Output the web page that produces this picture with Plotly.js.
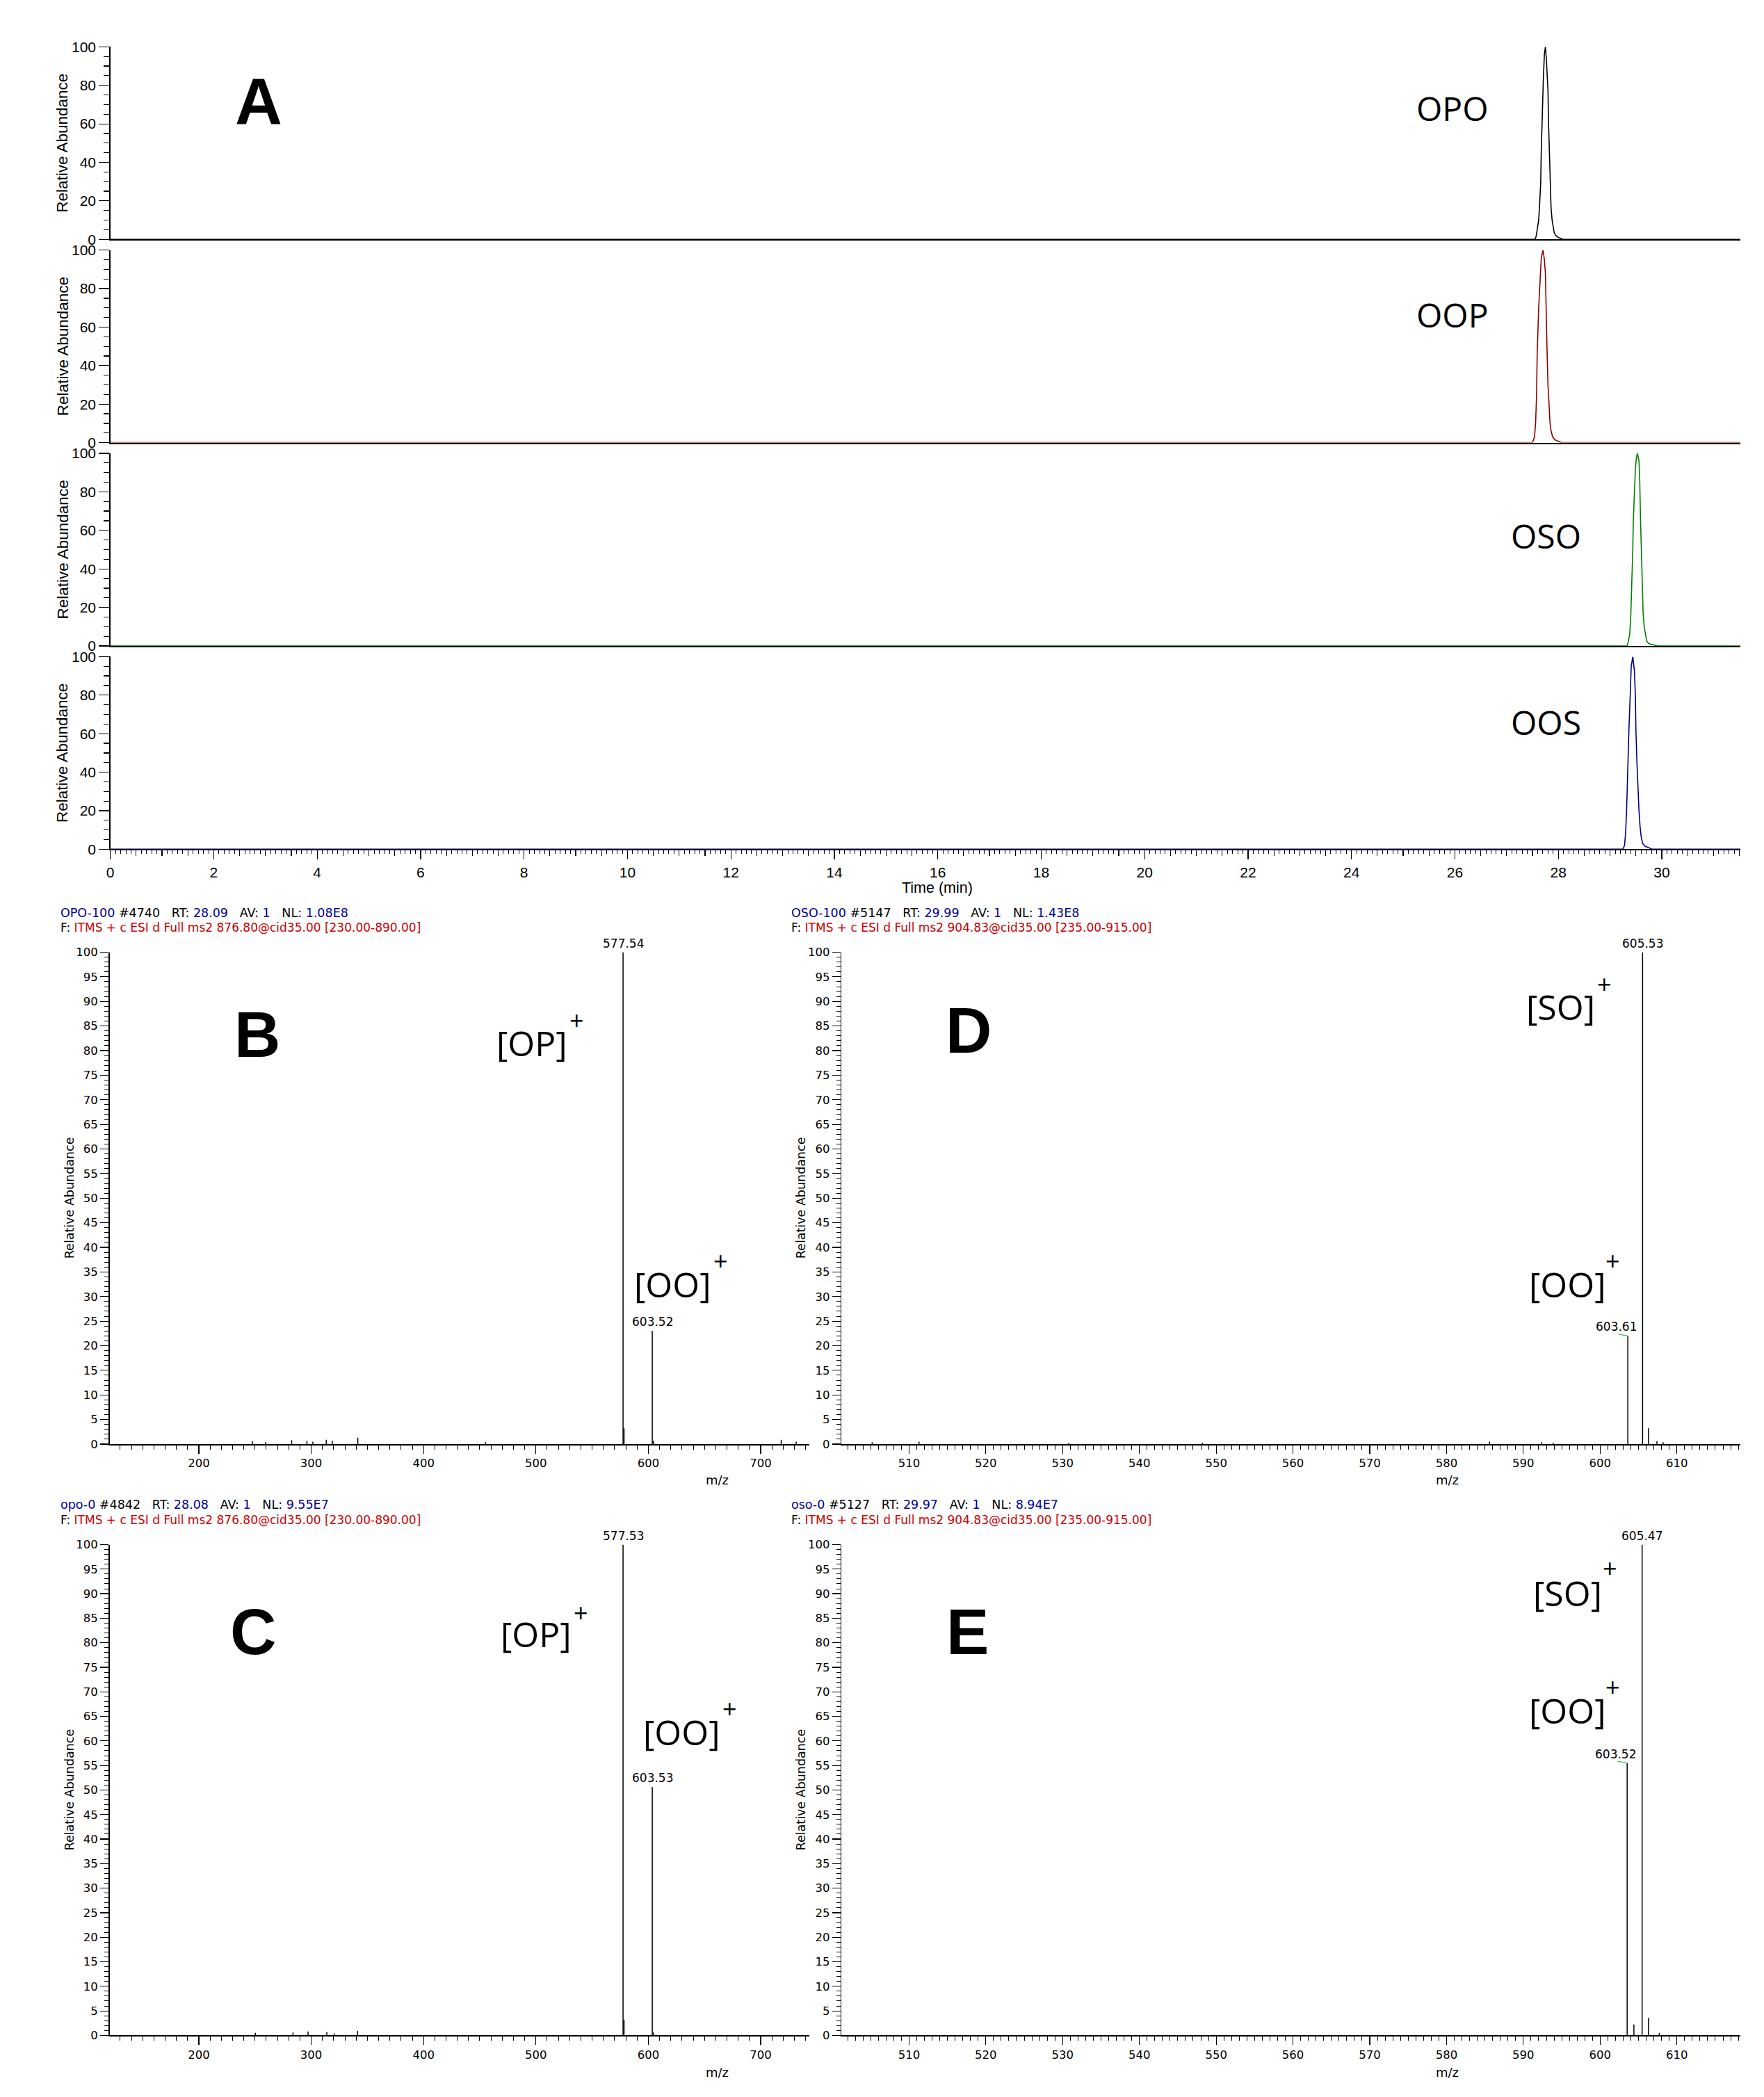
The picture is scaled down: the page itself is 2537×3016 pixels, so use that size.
<!DOCTYPE html>
<html><head><meta charset="utf-8">
<script src="https://cdn.plot.ly/plotly-3.0.1.min.js"></script>
<style>html,body{margin:0;padding:0;background:#fff}#chart{width:2537px;height:3016px}</style>
</head><body><div id="chart"></div>
<script>
// ================= DATA =================
// Panel A – chromatograms (time in min, relative abundance %)
const chromRange = [0, 31.52];
const timeTickVals = [0, 2, 4, 6, 8, 10, 12, 14, 16, 18, 20, 22, 24, 26, 28, 30];
const timeTickText = ['0','2','4','6','8','10','12','14','16','18','20','22','24','26','28','30'];
const chromAbundTicks = [0, 20, 40, 60, 80, 100];
const chromAbundText = ['0','20','40','60','80','100'];

const opoTime  = [0, 27.55, 27.57, 27.59, 27.62, 27.64, 27.66, 27.67, 27.69, 27.71, 27.73, 27.75, 27.77, 27.80, 27.81, 27.83, 27.85, 27.86, 27.88, 27.90, 27.92, 27.95, 28.00, 28.09, 31.52];
const opoAbund = [0, 0, 1.5, 5, 10, 19, 30, 46, 68, 83, 96, 100, 93, 77, 61, 42, 27, 16, 10, 6, 3.5, 2, 1, 0, 0];

const oopTime  = [0, 27.50, 27.54, 27.56, 27.58, 27.59, 27.62, 27.65, 27.67, 27.705, 27.73, 27.75, 27.76, 27.78, 27.80, 27.82, 27.84, 27.86, 27.89, 27.93, 28.00, 28.06, 31.52];
const oopAbund = [0, 0, 3, 10, 25, 45, 70, 88, 96, 100, 95, 88, 70, 50, 30, 18, 10, 6, 3, 1.5, 0.8, 0, 0];

const osoTime  = [0, 29.33, 29.35, 29.38, 29.40, 29.42, 29.44, 29.45, 29.47, 29.49, 29.51, 29.53, 29.56, 29.575, 29.59, 29.61, 29.62, 29.64, 29.66, 29.69, 29.71, 29.75, 29.84, 29.92, 31.52];
const osoAbund = [0, 0, 2, 6, 15, 30, 50, 65, 80, 92, 98, 100, 96, 85, 65, 45, 27, 17, 10, 5, 2.5, 1.2, 0.6, 0, 0];

const oosTime  = [0, 29.25, 29.28, 29.30, 29.32, 29.34, 29.365, 29.39, 29.41, 29.44, 29.47, 29.49, 29.50, 29.52, 29.54, 29.56, 29.58, 29.60, 29.63, 29.68, 29.75, 29.82, 31.52];
const oosAbund = [0, 0, 2, 8, 20, 40, 62, 80, 95, 100, 93, 80, 62, 45, 30, 20, 12, 7, 3, 1.5, 0.8, 0, 0];

const chromNames  = ['OPO', 'OOP', 'OSO', 'OOS'];
const chromColors = ['#000000', '#8b0000', '#008000', '#00008b'];

// MS spectra (m/z, relative abundance %)
const msAbundTicks = [0,5,10,15,20,25,30,35,40,45,50,55,60,65,70,75,80,85,90,95,100];
const msAbundText  = ['0','5','10','15','20','25','30','35','40','45','50','55','60','65','70','75','80','85','90','95','100'];
const wideMzRange  = [120.5, 743.2];
const wideMzTicks  = [200, 300, 400, 500, 600, 700];
const wideMzText   = ['200','300','400','500','600','700'];
const narrowMzRange = [501.2, 618.3];
const narrowMzTicks = [510, 520, 530, 540, 550, 560, 570, 580, 590, 600, 610];
const narrowMzText  = ['510','520','530','540','550','560','570','580','590','600','610'];

// B: OPO-100
const bMz    = [247.7, 259.3, 282.6, 296.2, 301.5, 313.4, 318.8, 341.5, 455.2, 577.54, 578.4, 603.52, 604.6, 718.3, 731.6];
const bAbund = [0.6, 0.4, 0.8, 0.7, 0.5, 0.9, 0.7, 1.3, 0.4, 100, 3.2, 23.0, 0.7, 0.9, 0.5];
const bLabelMz = [577.54, 603.52];
const bLabelText = ['577.54', '603.52'];
// C: opo-0
const cMz    = [250.3, 283.8, 297.2, 313.9, 320.5, 341.2, 577.53, 578.4, 603.53, 604.6];
const cAbund = [0.5, 0.6, 0.8, 0.7, 0.4, 0.9, 100, 3.2, 50.6, 0.6];
const cLabelMz = [577.53, 603.53];
const cLabelText = ['577.53', '603.53'];
// D: OSO-100
const dMz    = [505.2, 511.3, 530.8, 548.2, 585.6, 592.4, 593.9, 603.61, 605.53, 606.3, 607.4, 608.2];
const dAbund = [0.4, 0.5, 0.3, 0.3, 0.5, 0.4, 0.3, 22.0, 100, 3.2, 0.6, 0.4];
const dLabelMz = [605.53, 603.61];
const dLabelText = ['605.53', '603.61'];
// E: oso-0
const eMz    = [603.52, 604.4, 605.47, 606.3, 607.7];
const eAbund = [55.5, 2.2, 100, 3.6, 0.5];
const eLabelMz = [605.47, 603.52];
const eLabelText = ['605.47', '603.52'];

// Header texts
const headers = {
  B: {name: 'OPO-100', scan: '#4740', rt: '28.09', av: '1', nl: '1.08E8', filt: 'ITMS + c ESI d Full ms2 876.80@cid35.00 [230.00-890.00]'},
  D: {name: 'OSO-100', scan: '#5147', rt: '29.99', av: '1', nl: '1.43E8', filt: 'ITMS + c ESI d Full ms2 904.83@cid35.00 [235.00-915.00]'},
  C: {name: 'opo-0',   scan: '#4842', rt: '28.08', av: '1', nl: '9.55E7', filt: 'ITMS + c ESI d Full ms2 876.80@cid35.00 [230.00-890.00]'},
  E: {name: 'oso-0',   scan: '#5127', rt: '29.97', av: '1', nl: '8.94E7', filt: 'ITMS + c ESI d Full ms2 904.83@cid35.00 [235.00-915.00]'}
};

// ================= LAYOUT HELPERS =================
const W = 2537, H = 3016;
const px = v => v / W;
const py = v => 1 - v / H;
const fontA = 'Liberation Sans, Arial, sans-serif';
const fontMS = 'DejaVu Sans, Liberation Sans, sans-serif';
const fontLbl = 'Open Sans, Noto Sans, sans-serif';
const BLUE = '#000099', RED = '#cc0000';
const SP = '\u00a0\u00a0\u00a0';

const layout = {
  width: W, height: H,
  margin: {l: 0, r: 0, t: 0, b: 0},
  paper_bgcolor: '#ffffff', plot_bgcolor: '#ffffff',
  showlegend: false,
  font: {family: fontA, color: '#000'},
  annotations: [], shapes: []
};
const traces = [];

// ---- Panel A ----
const chromT = [opoTime, oopTime, osoTime, oosTime];
const chromA = [opoAbund, oopAbund, osoAbund, oosAbund];
const chromYpx = [[67.3, 344.3], [359.7, 636.6], [652, 929], [944.4, 1221.4]];
const chromLblPos = [[2089, 155], [2089, 452], [2223, 771], [2223, 1038]];
for (let i = 0; i < 4; i++) {
  const n = i + 1, sfx = n === 1 ? '' : String(n);
  const last = n === 4;
  layout['xaxis' + sfx] = {
    domain: [px(158.7), px(2503)], range: chromRange, anchor: 'y' + sfx,
    showline: true, linecolor: '#000', linewidth: 2, showgrid: false, zeroline: false,
    ticks: last ? 'outside' : '', ticklen: 13, tickwidth: 1.2, tickcolor: '#000',
    showticklabels: last, tickmode: 'array', tickvals: timeTickVals, ticktext: timeTickText,
    tickfont: {family: fontA, size: 21},
    minor: last ? {tickmode: 'linear', tick0: 0, dtick: 0.1, ticklen: 5, tickwidth: 1, tickcolor: '#000', ticks: 'outside', showgrid: false} : undefined,
    fixedrange: true
  };
  layout['yaxis' + sfx] = {
    domain: [py(chromYpx[i][1]), py(chromYpx[i][0])], range: [0, 100], anchor: 'x' + sfx,
    showline: true, linecolor: '#000', linewidth: 1.5, showgrid: false, zeroline: false,
    ticks: 'outside', ticklen: 15, tickwidth: 1.2, tickcolor: '#000',
    tickmode: 'array', tickvals: chromAbundTicks, ticktext: chromAbundText,
    tickfont: {family: fontA, size: 21},
    minor: {tickmode: 'linear', tick0: 0, dtick: 5, ticklen: 8, tickwidth: 1.2, tickcolor: '#000', ticks: 'outside', showgrid: false},
    fixedrange: true
  };
  traces.push({x: chromT[i], y: chromA[i], xaxis: 'x' + sfx, yaxis: 'y' + sfx, type: 'scatter', mode: 'lines',
    line: {color: chromColors[i], width: 1.6}, hoverinfo: 'skip', cliponaxis: false});
  layout.annotations.push({xref: 'paper', yref: 'paper', x: px(chromLblPos[i][0]), y: py(chromLblPos[i][1]),
    text: chromNames[i], showarrow: false, xanchor: 'center', yanchor: 'middle',
    font: {family: fontLbl, size: 48, color: '#000'}});
  layout.annotations.push({xref: 'paper', yref: 'paper', x: px(90), y: py((chromYpx[i][0] + chromYpx[i][1]) / 2),
    text: 'Relative Abundance', textangle: -90, showarrow: false, xanchor: 'center', yanchor: 'middle',
    font: {family: fontA, size: 22.5, color: '#000'}});
}
// medium (0.5 min) ticks on the time axis
layout.xaxis9 = {overlaying: 'x4', anchor: 'y4', range: chromRange, showline: false, showgrid: false, zeroline: false,
  ticks: 'outside', tick0: 0, dtick: 0.5, ticklen: 9, tickwidth: 1.2, tickcolor: '#000', showticklabels: false, fixedrange: true};
traces.push({x: chromRange, y: [0, 0], xaxis: 'x9', yaxis: 'y4', type: 'scatter', mode: 'lines',
  line: {color: 'rgba(0,0,0,0)', width: 0}, hoverinfo: 'skip'});
layout.annotations.push({xref: 'paper', yref: 'paper', x: px(1348), y: py(1277), text: 'Time (min)', showarrow: false,
  xanchor: 'center', yanchor: 'middle', font: {family: fontA, size: 21.5, color: '#000'}});

// ---- MS panels ----
function stems(mz, ab) {
  const x = [], y = [];
  mz.forEach((m, i) => { x.push(m, m, null); y.push(0, ab[i], null); });
  return {x, y};
}
const msPanels = [
  {key: 'B', ax: '5', mz: bMz, ab: bAbund, lmz: bLabelMz, ltx: bLabelText, xr: wideMzRange, xt: wideMzTicks, xtt: wideMzText, xminor: 10,
   xpx: [157.5, 1163.8], ypx: [1369.5, 2077], hx: 85, hy: [1313, 1334], ytx: 100, mzx: [1031, 2128],
   ions: [['[OP]', 765, 1500, 829, 1467], ['[OO]', 967, 1847, 1036, 1813]], letter: ['B', 370, 1488], lshift: [0, 0]},
  {key: 'D', ax: '6', mz: dMz, ab: dAbund, lmz: dLabelMz, ltx: dLabelText, xr: narrowMzRange, xt: narrowMzTicks, xtt: narrowMzText, xminor: 1,
   xpx: [1210.2, 2503.4], ypx: [1369.5, 2077], hx: 1136, hy: [1313, 1334], ytx: 1152, mzx: [2081, 2128],
   ions: [['[SO]', 2244, 1448, 2307, 1415], ['[OO]', 2254, 1847, 2319, 1813]], letter: ['D', 1393, 1482], lshift: [0, -17]},
  {key: 'C', ax: '7', mz: cMz, ab: cAbund, lmz: cLabelMz, ltx: cLabelText, xr: wideMzRange, xt: wideMzTicks, xtt: wideMzText, xminor: 10,
   xpx: [157.5, 1163.8], ypx: [2221.5, 2927.4], hx: 85, hy: [2164, 2186], ytx: 100, mzx: [1031, 2980],
   ions: [['[OP]', 771, 2350, 835, 2319], ['[OO]', 981, 2491, 1049, 2457]], letter: ['C', 364, 2347], lshift: [0, 0]},
  {key: 'E', ax: '8', mz: eMz, ab: eAbund, lmz: eLabelMz, ltx: eLabelText, xr: narrowMzRange, xt: narrowMzTicks, xtt: narrowMzText, xminor: 1,
   xpx: [1210.2, 2503.4], ypx: [2221.5, 2927.4], hx: 1136, hy: [2164, 2186], ytx: 1152, mzx: [2081, 2980],
   ions: [['[SO]', 2254, 2291, 2315, 2255], ['[OO]', 2254, 2460, 2319, 2426]], letter: ['E', 1391, 2347], lshift: [0, -17]}
];
layout.annotations.push({xref: 'paper', yref: 'paper', x: px(372), y: py(146), text: '<b>A</b>', showarrow: false,
  xanchor: 'center', yanchor: 'middle', font: {family: fontA, size: 94, color: '#000'}});

msPanels.forEach(p => {
  const xa = 'x' + p.ax, ya = 'y' + p.ax;
  layout['xaxis' + p.ax] = {
    domain: [px(p.xpx[0]), px(p.xpx[1])], range: p.xr, anchor: ya,
    showline: true, linecolor: '#000', linewidth: 1.5, showgrid: false, zeroline: false,
    ticks: 'outside', ticklen: 12, tickwidth: 1.2, tickcolor: '#000',
    tickmode: 'array', tickvals: p.xt, ticktext: p.xtt, tickfont: {family: fontMS, size: 16.5},
    minor: {tickmode: 'linear', tick0: 0, dtick: p.xminor, ticklen: 6, tickwidth: 1, tickcolor: '#000', ticks: 'outside', showgrid: false},
    fixedrange: true
  };
  layout['yaxis' + p.ax] = {
    domain: [py(p.ypx[1]), py(p.ypx[0])], range: [0, 100], anchor: xa,
    showline: true, linecolor: '#000', linewidth: 1.5, showgrid: false, zeroline: false,
    ticks: 'outside', ticklen: 12, tickwidth: 1.2, tickcolor: '#000',
    tickmode: 'array', tickvals: msAbundTicks, ticktext: msAbundText, tickfont: {family: fontMS, size: 16.5},
    minor: {tickmode: 'linear', tick0: 0, dtick: 1, ticklen: 6, tickwidth: 1, tickcolor: '#000', ticks: 'outside', showgrid: false},
    fixedrange: true
  };
  const s = stems(p.mz, p.ab);
  traces.push({x: s.x, y: s.y, xaxis: xa, yaxis: ya, type: 'scatter', mode: 'lines',
    line: {color: '#000', width: 1.5}, hoverinfo: 'skip', cliponaxis: false, connectgaps: false});
  // peak labels
  p.lmz.forEach((m, i) => {
    const h = p.ab[p.mz.indexOf(m)];
    layout.annotations.push({xref: xa, yref: ya, x: m, y: h, text: p.ltx[i], showarrow: false,
      xanchor: 'center', yanchor: 'bottom', yshift: 1, xshift: p.lshift[i],
      font: {family: fontMS, size: 17, color: '#000'}});
    if (p.lshift[i] !== 0) {
      layout.shapes.push({type: 'line', xref: xa, yref: ya, x0: m - 1.25, x1: m, y0: h + 0.35, y1: h,
        line: {color: '#22aa22', width: 1}});
    }
  });
  // headers
  const hd = headers[p.key];
  const l1 = '<span style="color:' + BLUE + '">' + hd.name + '</span> ' + hd.scan + SP + 'RT: <span style="color:' + BLUE + '">' + hd.rt +
    '</span>' + SP + 'AV: <span style="color:' + BLUE + '">' + hd.av + '</span>' + SP + 'NL: <span style="color:' + BLUE + '">' + hd.nl + '</span>';
  const l2 = 'F: <span style="color:' + RED + '">' + hd.filt + '</span>';
  layout.annotations.push({xref: 'paper', yref: 'paper', x: px(p.hx), y: py(p.hy[0]), text: l1, showarrow: false,
    xanchor: 'left', yanchor: 'middle', font: {family: fontMS, size: 17.5, color: '#000'}});
  layout.annotations.push({xref: 'paper', yref: 'paper', x: px(p.hx), y: py(p.hy[1]), text: l2, showarrow: false,
    xanchor: 'left', yanchor: 'middle', font: {family: fontMS, size: 17, color: '#000'}});
  // axis titles
  layout.annotations.push({xref: 'paper', yref: 'paper', x: px(p.ytx), y: py((p.ypx[0] + p.ypx[1]) / 2),
    text: 'Relative Abundance', textangle: -90, showarrow: false, xanchor: 'center', yanchor: 'middle',
    font: {family: fontMS, size: 17.5, color: '#000'}});
  layout.annotations.push({xref: 'paper', yref: 'paper', x: px(p.mzx[0]), y: py(p.mzx[1]), text: 'm/z', showarrow: false,
    xanchor: 'center', yanchor: 'middle', font: {family: fontMS, size: 18, color: '#000'}});
  // ion labels
  p.ions.forEach(io => {
    layout.annotations.push({xref: 'paper', yref: 'paper', x: px(io[1]), y: py(io[2]), text: io[0], showarrow: false,
      xanchor: 'center', yanchor: 'middle', font: {family: fontLbl, size: 50, color: '#000'}});
    layout.annotations.push({xref: 'paper', yref: 'paper', x: px(io[3]), y: py(io[4]), text: '+', showarrow: false,
      xanchor: 'center', yanchor: 'middle', font: {family: fontLbl, size: 36, color: '#000'}});
  });
  // panel letter
  layout.annotations.push({xref: 'paper', yref: 'paper', x: px(p.letter[1]), y: py(p.letter[2]), text: '<b>' + p.letter[0] + '</b>',
    showarrow: false, xanchor: 'center', yanchor: 'middle', font: {family: fontA, size: 92, color: '#000'}});
});

Plotly.newPlot('chart', traces, layout, {staticPlot: true, displayModeBar: false});
</script></body></html>
